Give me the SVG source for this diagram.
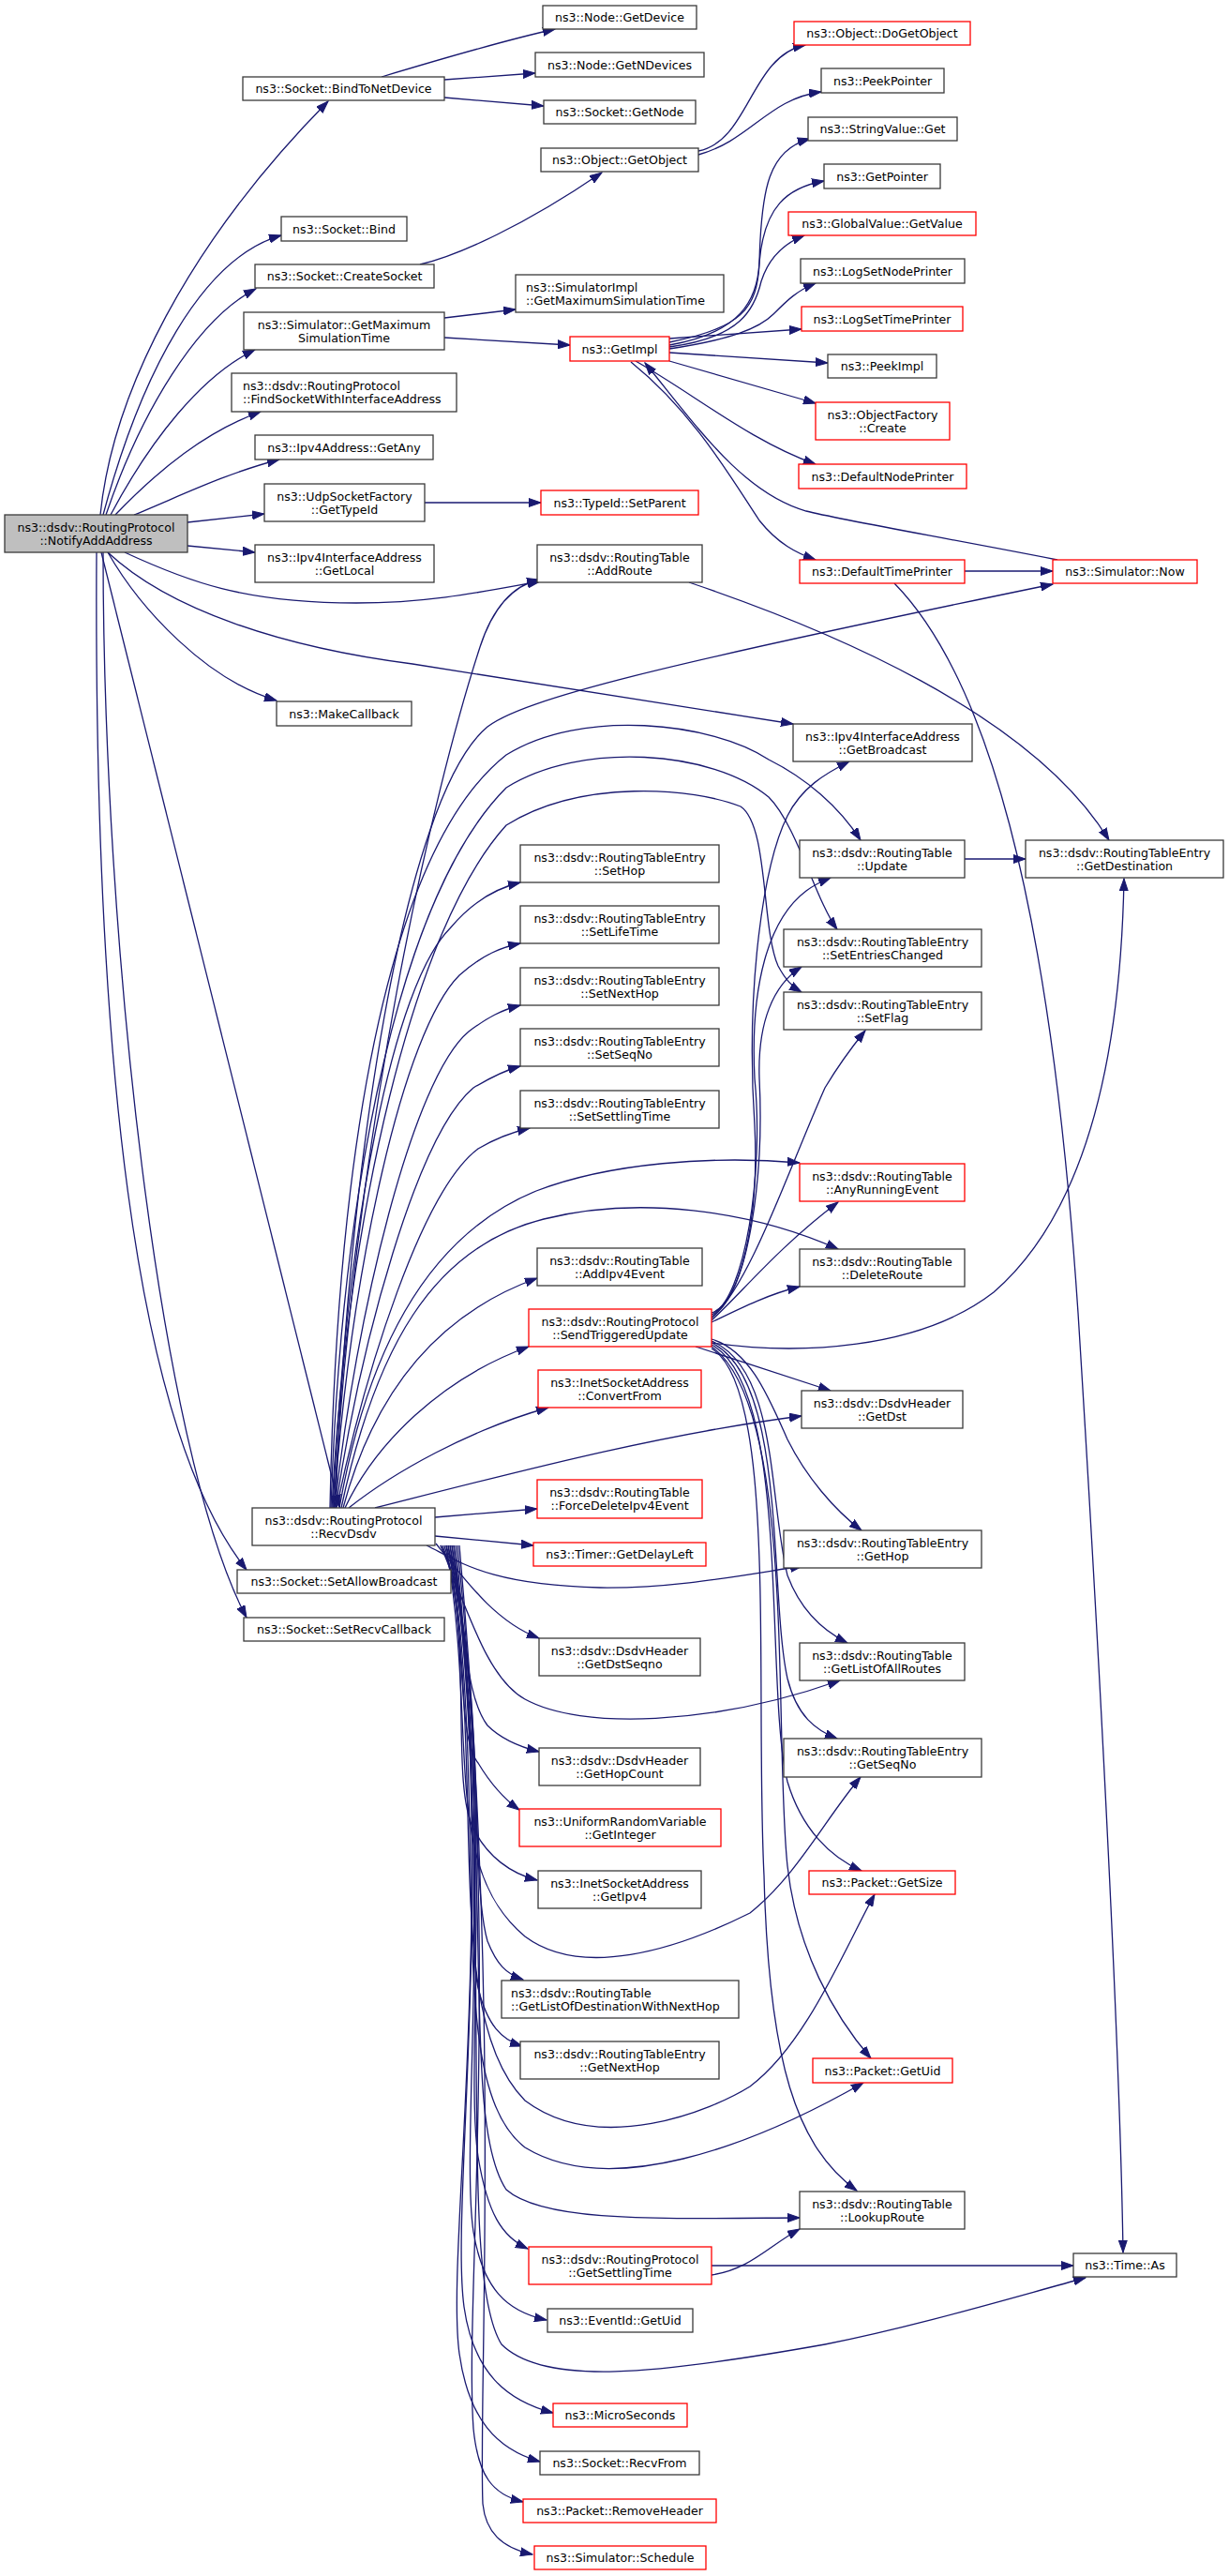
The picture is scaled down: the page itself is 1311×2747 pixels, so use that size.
<svg xmlns="http://www.w3.org/2000/svg" width="1311" height="2747" viewBox="0 0 1311 2747">
<style>
.n rect{fill:#fff;stroke:#3a3a3a;stroke-width:1.3}
.n.r rect{stroke:#ff0000}
.n.root rect{fill:#bfbfbf;stroke:#3a3a3a}
.n text{font-family:"DejaVu Sans","Liberation Sans",sans-serif;font-size:12.6px;fill:#000;text-anchor:middle}
.n text.l{text-anchor:start}
.e path{fill:none;stroke:#191970;stroke-width:1.3;marker-end:url(#a)}
</style>
<defs>
<marker id="a" markerWidth="14" markerHeight="10" refX="13" refY="5" orient="auto" markerUnits="userSpaceOnUse"><path d="M0,0.5 L13,5 L0,9.5 z" fill="#191970" stroke="#191970" stroke-width="1"/></marker>
</defs>
<rect x="0" y="0" width="1311" height="2747" fill="#fff"/>
<g id="edges" class="e">
<path d="M107,549 C120,420 200,260 350,108"/>
<path d="M110,549 C150,400 215,275 300,251"/>
<path d="M113,549 C150,440 210,340 273,308"/>
<path d="M118,549 C160,470 215,400 272,373"/>
<path d="M123,549 C170,500 220,460 278,439"/>
<path d="M143,549 C190,530 240,505 298,490"/>
<path d="M200,557 L282,548"/>
<path d="M200,582 L272,589"/>
<path d="M133,589 C200,620 260,643 380,643 C460,643 520,630 576,620"/>
<path d="M115,589 C180,650 300,690 440,708 L846,772"/>
<path d="M115,589 C150,650 220,725 295,747"/>
<path d="M108,589 L362,1607"/>
<path d="M103,589 C100,1100 140,1520 263,1674"/>
<path d="M110,589 C110,1000 170,1550 263,1725"/>
<path d="M407,82 C460,66 530,45 592,31"/>
<path d="M474,85 L571,78"/>
<path d="M474,104 L580,113"/>
<path d="M448,282 C490,272 560,240 642,184"/>
<path d="M745,161 C800,150 800,60 859,48"/>
<path d="M745,165 C800,150 820,105 876,98"/>
<path d="M474,339 L550,330"/>
<path d="M474,360 L608,368"/>
<path d="M453,536 L577,536"/>
<path d="M735,621 C880,670 1100,760 1183,896"/>
<path d="M714,365 C790,350 808,330 810,280 C812,200 820,160 864,148"/>
<path d="M714,368 C790,355 808,320 810,280 C815,220 840,200 879,193"/>
<path d="M714,370 C790,360 805,330 812,300 C820,275 835,260 858,251"/>
<path d="M714,372 C780,362 810,350 825,335 C840,320 850,310 870,302"/>
<path d="M714,361 L855,351"/>
<path d="M714,376 L883,387"/>
<path d="M714,385 L870,430"/>
<path d="M678,385 C740,420 800,470 870,495"/>
<path d="M673,386 C740,440 780,510 810,555 C830,580 850,590 870,597"/>
<path d="M1128,597 C1000,572 900,555 860,545 C790,525 740,450 688,387"/>
<path d="M1029,609 L1123,609"/>
<path d="M954,622 C1050,720 1120,950 1150,1400 C1175,1800 1195,2200 1198,2402"/>
<path d="M1029,916 L1094,916"/>
<path d="M358,1608 C370,1250 430,850 520,775 C560,745 700,710 1123,623"/>
<path d="M356,1608 C380,1200 460,850 512,690 C525,650 545,625 575,618"/>
<path d="M352,1608 C360,1200 420,900 540,805 C620,755 760,770 820,810 C860,830 895,860 918,896"/>
<path d="M353,1608 C365,1250 430,950 540,840 C620,790 760,800 820,850 C850,880 870,960 893,991"/>
<path d="M354,1608 C370,1300 440,990 540,880 C620,830 740,840 790,860 C820,880 812,990 830,1030 C838,1045 845,1052 855,1058"/>
<path d="M355,1608 C370,1300 420,1050 480,990 C505,960 530,947 555,941"/>
<path d="M356,1608 C375,1350 430,1100 490,1040 C515,1018 535,1010 555,1006"/>
<path d="M357,1608 C380,1400 440,1150 500,1100 C520,1085 535,1077 555,1072"/>
<path d="M358,1608 C385,1430 445,1210 505,1160 C525,1148 540,1141 555,1137"/>
<path d="M359,1608 C390,1460 450,1270 510,1225 C530,1213 548,1207 565,1203"/>
<path d="M362,1608 C390,1450 450,1320 572,1270 C650,1240 760,1232 853,1240"/>
<path d="M364,1608 C400,1440 460,1330 580,1300 C680,1275 800,1290 894,1332"/>
<path d="M366,1608 C400,1480 470,1400 573,1363"/>
<path d="M368,1608 C400,1540 470,1470 564,1436"/>
<path d="M372,1608 C420,1570 500,1525 585,1501"/>
<path d="M400,1608 C550,1570 700,1530 855,1510"/>
<path d="M464,1618 L573,1609"/>
<path d="M464,1638 L569,1648"/>
<path d="M455,1648 C490,1665 520,1690 640,1693 C720,1694 790,1680 856,1670"/>
<path d="M465,1646 C500,1690 530,1730 575,1747"/>
<path d="M470,1648 C500,1720 520,1790 560,1812 C620,1845 760,1840 896,1792"/>
<path d="M470,1648 C500,1700 490,1800 520,1840 C535,1855 555,1863 575,1868"/>
<path d="M472,1648 C500,1720 485,1850 510,1880 C525,1905 540,1920 554,1930"/>
<path d="M474,1648 C505,1750 480,1900 505,1950 C520,1980 545,1998 573,2005"/>
<path d="M476,1648 C510,1850 470,1990 560,2065 C620,2110 720,2080 800,2040 C850,2000 880,1940 918,1895"/>
<path d="M476,1648 C520,1800 500,2000 520,2070 C530,2095 540,2105 558,2111"/>
<path d="M478,1648 C525,1850 495,2050 510,2120 C520,2160 535,2175 557,2182"/>
<path d="M478,1648 C520,1900 470,2150 560,2240 C640,2300 760,2250 800,2225 C860,2180 900,2080 933,2020"/>
<path d="M480,1648 C525,1950 470,2220 560,2290 C650,2345 800,2290 921,2221"/>
<path d="M482,1648 C530,2000 490,2260 540,2335 C580,2370 700,2366 853,2365"/>
<path d="M480,1648 C530,1900 495,2200 510,2300 C520,2360 535,2385 563,2398"/>
<path d="M482,1648 C530,1950 490,2280 505,2380 C515,2440 540,2465 583,2474"/>
<path d="M484,1648 C530,2050 485,2420 535,2500 C580,2545 700,2532 880,2500 C980,2480 1080,2450 1158,2429"/>
<path d="M484,1648 C530,2000 480,2350 495,2460 C505,2530 540,2560 590,2573"/>
<path d="M486,1648 C530,2050 475,2400 490,2510 C500,2580 530,2612 576,2625"/>
<path d="M488,1648 C535,2100 495,2450 505,2590 C510,2640 525,2660 558,2668"/>
<path d="M490,1648 C535,2150 510,2550 515,2670 C518,2700 535,2717 568,2724"/>
<path d="M759,1400 C790,1390 810,1300 805,1200 C795,1050 815,920 840,870 C855,840 880,825 906,812"/>
<path d="M759,1402 C795,1385 815,1250 805,1150 C800,1050 820,980 860,950 C868,944 876,940 886,936"/>
<path d="M759,1404 C800,1380 815,1250 810,1150 C808,1090 825,1050 855,1031"/>
<path d="M759,1406 C800,1370 840,1250 880,1160 C895,1135 910,1115 923,1099"/>
<path d="M759,1408 C790,1380 830,1330 894,1282"/>
<path d="M759,1410 C790,1395 820,1380 853,1372"/>
<path d="M742,1436 L886,1483"/>
<path d="M759,1432 C850,1445 980,1440 1060,1378 C1150,1300 1195,1150 1199,937"/>
<path d="M759,1428 C800,1440 820,1490 840,1535 C860,1575 890,1610 919,1632"/>
<path d="M759,1430 C830,1460 820,1600 840,1680 C855,1720 880,1740 904,1752"/>
<path d="M759,1432 C840,1470 820,1700 840,1790 C850,1830 870,1845 893,1854"/>
<path d="M759,1434 C845,1480 815,1800 840,1900 C855,1950 885,1980 919,1995"/>
<path d="M759,1436 C850,1500 825,1850 840,1990 C850,2080 890,2150 929,2195"/>
<path d="M759,1438 C830,1480 805,1800 815,2000 C820,2200 850,2290 914,2336"/>
<path d="M759,2426 C800,2420 820,2395 853,2377"/>
<path d="M759,2416 L1145,2416"/>
</g>
<g id="n_root" class="n root"><rect x="5" y="549" width="195" height="40"/><text x="102.5" y="566.5">ns3::dsdv::RoutingProtocol</text><text x="102.5" y="580.5">::NotifyAddAddress</text></g>
<g id="n_bindtonetdevice" class="n"><rect x="259" y="82" width="215" height="25"/><text x="366.5" y="99">ns3::Socket::BindToNetDevice</text></g>
<g id="n_bind" class="n"><rect x="300" y="231" width="134" height="26"/><text x="367" y="248.5">ns3::Socket::Bind</text></g>
<g id="n_createsocket" class="n"><rect x="272" y="282" width="191" height="25"/><text x="367.5" y="299">ns3::Socket::CreateSocket</text></g>
<g id="n_getmaxsim" class="n"><rect x="260" y="333" width="214" height="40"/><text x="367" y="350.5">ns3::Simulator::GetMaximum</text><text x="367" y="364.5">SimulationTime</text></g>
<g id="n_findsocket" class="n"><rect x="247" y="398" width="240" height="41"/><text class="l" x="259" y="416">ns3::dsdv::RoutingProtocol</text><text class="l" x="259" y="430">::FindSocketWithInterfaceAddress</text></g>
<g id="n_getany" class="n"><rect x="272" y="464" width="190" height="26"/><text x="367" y="481.5">ns3::Ipv4Address::GetAny</text></g>
<g id="n_udpgettypeid" class="n"><rect x="282" y="516" width="171" height="40"/><text x="367.5" y="533.5">ns3::UdpSocketFactory</text><text x="367.5" y="547.5">::GetTypeId</text></g>
<g id="n_getlocal" class="n"><rect x="272" y="581" width="191" height="40"/><text x="367.5" y="598.5">ns3::Ipv4InterfaceAddress</text><text x="367.5" y="612.5">::GetLocal</text></g>
<g id="n_makecallback" class="n"><rect x="295" y="748" width="144" height="26"/><text x="367" y="765.5">ns3::MakeCallback</text></g>
<g id="n_recvdsdv" class="n"><rect x="269" y="1608" width="195" height="40"/><text x="366.5" y="1625.5">ns3::dsdv::RoutingProtocol</text><text x="366.5" y="1639.5">::RecvDsdv</text></g>
<g id="n_setallowbroadcast" class="n"><rect x="253" y="1674" width="228" height="25"/><text x="367" y="1691">ns3::Socket::SetAllowBroadcast</text></g>
<g id="n_setrecvcallback" class="n"><rect x="260" y="1725" width="214" height="25"/><text x="367" y="1742">ns3::Socket::SetRecvCallback</text></g>
<g id="n_getdevice" class="n"><rect x="579" y="6" width="164" height="25"/><text x="661" y="23">ns3::Node::GetDevice</text></g>
<g id="n_getndevices" class="n"><rect x="571" y="56" width="180" height="26"/><text x="661" y="73.5">ns3::Node::GetNDevices</text></g>
<g id="n_getnode" class="n"><rect x="580" y="107" width="162" height="25"/><text x="661" y="124">ns3::Socket::GetNode</text></g>
<g id="n_getobject" class="n"><rect x="577" y="158" width="168" height="25"/><text x="661" y="175">ns3::Object::GetObject</text></g>
<g id="n_simimplmax" class="n"><rect x="550" y="293" width="222" height="40"/><text class="l" x="561" y="310.5">ns3::SimulatorImpl</text><text class="l" x="561" y="324.5">::GetMaximumSimulationTime</text></g>
<g id="n_getimpl" class="n r"><rect x="608" y="359" width="106" height="26"/><text x="661" y="376.5">ns3::GetImpl</text></g>
<g id="n_setparent" class="n r"><rect x="577" y="523" width="168" height="26"/><text x="661" y="540.5">ns3::TypeId::SetParent</text></g>
<g id="n_addroute" class="n"><rect x="573" y="581" width="176" height="40"/><text x="661" y="598.5">ns3::dsdv::RoutingTable</text><text x="661" y="612.5">::AddRoute</text></g>
<g id="n_sethop" class="n"><rect x="555" y="901" width="212" height="40"/><text x="661" y="918.5">ns3::dsdv::RoutingTableEntry</text><text x="661" y="932.5">::SetHop</text></g>
<g id="n_setlifetime" class="n"><rect x="555" y="966" width="212" height="40"/><text x="661" y="983.5">ns3::dsdv::RoutingTableEntry</text><text x="661" y="997.5">::SetLifeTime</text></g>
<g id="n_setnexthop" class="n"><rect x="555" y="1032" width="212" height="40"/><text x="661" y="1049.5">ns3::dsdv::RoutingTableEntry</text><text x="661" y="1063.5">::SetNextHop</text></g>
<g id="n_setseqno" class="n"><rect x="555" y="1097" width="212" height="40"/><text x="661" y="1114.5">ns3::dsdv::RoutingTableEntry</text><text x="661" y="1128.5">::SetSeqNo</text></g>
<g id="n_setsettlingtime" class="n"><rect x="555" y="1163" width="212" height="40"/><text x="661" y="1180.5">ns3::dsdv::RoutingTableEntry</text><text x="661" y="1194.5">::SetSettlingTime</text></g>
<g id="n_addipv4event" class="n"><rect x="573" y="1331" width="176" height="40"/><text x="661" y="1348.5">ns3::dsdv::RoutingTable</text><text x="661" y="1362.5">::AddIpv4Event</text></g>
<g id="n_sendtriggered" class="n r"><rect x="564" y="1396" width="195" height="40"/><text x="661.5" y="1413.5">ns3::dsdv::RoutingProtocol</text><text x="661.5" y="1427.5">::SendTriggeredUpdate</text></g>
<g id="n_convertfrom" class="n r"><rect x="574" y="1461" width="174" height="40"/><text x="661" y="1478.5">ns3::InetSocketAddress</text><text x="661" y="1492.5">::ConvertFrom</text></g>
<g id="n_forcedelete" class="n r"><rect x="573" y="1578" width="176" height="41"/><text x="661" y="1596">ns3::dsdv::RoutingTable</text><text x="661" y="1610">::ForceDeleteIpv4Event</text></g>
<g id="n_getdelayleft" class="n r"><rect x="569" y="1645" width="184" height="25"/><text x="661" y="1662">ns3::Timer::GetDelayLeft</text></g>
<g id="n_getdstseqno" class="n"><rect x="575" y="1747" width="172" height="40"/><text x="661" y="1764.5">ns3::dsdv::DsdvHeader</text><text x="661" y="1778.5">::GetDstSeqno</text></g>
<g id="n_gethopcount" class="n"><rect x="575" y="1864" width="172" height="40"/><text x="661" y="1881.5">ns3::dsdv::DsdvHeader</text><text x="661" y="1895.5">::GetHopCount</text></g>
<g id="n_getinteger" class="n r"><rect x="554" y="1929" width="215" height="40"/><text x="661.5" y="1946.5">ns3::UniformRandomVariable</text><text x="661.5" y="1960.5">::GetInteger</text></g>
<g id="n_getipv4" class="n"><rect x="574" y="1995" width="174" height="40"/><text x="661" y="2012.5">ns3::InetSocketAddress</text><text x="661" y="2026.5">::GetIpv4</text></g>
<g id="n_getlistdest" class="n"><rect x="535" y="2112" width="253" height="40"/><text class="l" x="545" y="2129.5">ns3::dsdv::RoutingTable</text><text class="l" x="545" y="2143.5">::GetListOfDestinationWithNextHop</text></g>
<g id="n_getnexthop" class="n"><rect x="555" y="2177" width="212" height="40"/><text x="661" y="2194.5">ns3::dsdv::RoutingTableEntry</text><text x="661" y="2208.5">::GetNextHop</text></g>
<g id="n_getsettlingtime" class="n r"><rect x="564" y="2396" width="195" height="40"/><text x="661.5" y="2413.5">ns3::dsdv::RoutingProtocol</text><text x="661.5" y="2427.5">::GetSettlingTime</text></g>
<g id="n_eventgetuid" class="n"><rect x="584" y="2462" width="155" height="25"/><text x="661.5" y="2479">ns3::EventId::GetUid</text></g>
<g id="n_microseconds" class="n r"><rect x="590" y="2563" width="143" height="25"/><text x="661.5" y="2580">ns3::MicroSeconds</text></g>
<g id="n_recvfrom" class="n"><rect x="576" y="2614" width="170" height="25"/><text x="661" y="2631">ns3::Socket::RecvFrom</text></g>
<g id="n_removeheader" class="n r"><rect x="558" y="2665" width="206" height="25"/><text x="661" y="2682">ns3::Packet::RemoveHeader</text></g>
<g id="n_schedule" class="n r"><rect x="570" y="2715" width="183" height="25"/><text x="661.5" y="2732">ns3::Simulator::Schedule</text></g>
<g id="n_dogetobject" class="n r"><rect x="847" y="23" width="188" height="25"/><text x="941" y="40">ns3::Object::DoGetObject</text></g>
<g id="n_peekpointer" class="n"><rect x="876" y="73" width="131" height="26"/><text x="941.5" y="90.5">ns3::PeekPointer</text></g>
<g id="n_stringvalueget" class="n"><rect x="862" y="125" width="159" height="25"/><text x="941.5" y="142">ns3::StringValue::Get</text></g>
<g id="n_getpointer" class="n"><rect x="879" y="175" width="124" height="26"/><text x="941" y="192.5">ns3::GetPointer</text></g>
<g id="n_globalvalue" class="n r"><rect x="841" y="226" width="200" height="25"/><text x="941" y="243">ns3::GlobalValue::GetValue</text></g>
<g id="n_logsetnodeprinter" class="n"><rect x="854" y="276" width="175" height="26"/><text x="941.5" y="293.5">ns3::LogSetNodePrinter</text></g>
<g id="n_logsettimeprinter" class="n r"><rect x="855" y="327" width="172" height="26"/><text x="941" y="344.5">ns3::LogSetTimePrinter</text></g>
<g id="n_peekimpl" class="n"><rect x="883" y="378" width="116" height="25"/><text x="941" y="395">ns3::PeekImpl</text></g>
<g id="n_objectfactory" class="n r"><rect x="870" y="429" width="143" height="40"/><text x="941.5" y="446.5">ns3::ObjectFactory</text><text x="941.5" y="460.5">::Create</text></g>
<g id="n_defaultnodeprinter" class="n r"><rect x="852" y="495" width="179" height="26"/><text x="941.5" y="512.5">ns3::DefaultNodePrinter</text></g>
<g id="n_defaulttimeprinter" class="n r"><rect x="853" y="597" width="176" height="25"/><text x="941" y="614">ns3::DefaultTimePrinter</text></g>
<g id="n_getbroadcast" class="n"><rect x="846" y="772" width="191" height="40"/><text x="941.5" y="789.5">ns3::Ipv4InterfaceAddress</text><text x="941.5" y="803.5">::GetBroadcast</text></g>
<g id="n_update" class="n"><rect x="853" y="896" width="176" height="40"/><text x="941" y="913.5">ns3::dsdv::RoutingTable</text><text x="941" y="927.5">::Update</text></g>
<g id="n_setentrieschanged" class="n"><rect x="836" y="991" width="211" height="40"/><text x="941.5" y="1008.5">ns3::dsdv::RoutingTableEntry</text><text x="941.5" y="1022.5">::SetEntriesChanged</text></g>
<g id="n_setflag" class="n"><rect x="836" y="1058" width="211" height="40"/><text x="941.5" y="1075.5">ns3::dsdv::RoutingTableEntry</text><text x="941.5" y="1089.5">::SetFlag</text></g>
<g id="n_anyrunningevent" class="n r"><rect x="853" y="1241" width="176" height="40"/><text x="941" y="1258.5">ns3::dsdv::RoutingTable</text><text x="941" y="1272.5">::AnyRunningEvent</text></g>
<g id="n_deleteroute" class="n"><rect x="853" y="1332" width="176" height="40"/><text x="941" y="1349.5">ns3::dsdv::RoutingTable</text><text x="941" y="1363.5">::DeleteRoute</text></g>
<g id="n_getdst" class="n"><rect x="855" y="1483" width="172" height="40"/><text x="941" y="1500.5">ns3::dsdv::DsdvHeader</text><text x="941" y="1514.5">::GetDst</text></g>
<g id="n_gethop" class="n"><rect x="836" y="1632" width="211" height="40"/><text x="941.5" y="1649.5">ns3::dsdv::RoutingTableEntry</text><text x="941.5" y="1663.5">::GetHop</text></g>
<g id="n_getlistallroutes" class="n"><rect x="853" y="1752" width="176" height="40"/><text x="941" y="1769.5">ns3::dsdv::RoutingTable</text><text x="941" y="1783.5">::GetListOfAllRoutes</text></g>
<g id="n_getseqno" class="n"><rect x="836" y="1854" width="211" height="41"/><text x="941.5" y="1872">ns3::dsdv::RoutingTableEntry</text><text x="941.5" y="1886">::GetSeqNo</text></g>
<g id="n_packetgetsize" class="n r"><rect x="863" y="1995" width="156" height="25"/><text x="941" y="2012">ns3::Packet::GetSize</text></g>
<g id="n_packetgetuid" class="n r"><rect x="867" y="2195" width="149" height="26"/><text x="941.5" y="2212.5">ns3::Packet::GetUid</text></g>
<g id="n_lookuproute" class="n"><rect x="853" y="2337" width="176" height="40"/><text x="941" y="2354.5">ns3::dsdv::RoutingTable</text><text x="941" y="2368.5">::LookupRoute</text></g>
<g id="n_simulatornow" class="n r"><rect x="1123" y="597" width="154" height="25"/><text x="1200" y="614">ns3::Simulator::Now</text></g>
<g id="n_getdestination" class="n"><rect x="1094" y="896" width="211" height="40"/><text x="1199.5" y="913.5">ns3::dsdv::RoutingTableEntry</text><text x="1199.5" y="927.5">::GetDestination</text></g>
<g id="n_timeas" class="n"><rect x="1145" y="2403" width="110" height="25"/><text x="1200" y="2420">ns3::Time::As</text></g>
</svg>
